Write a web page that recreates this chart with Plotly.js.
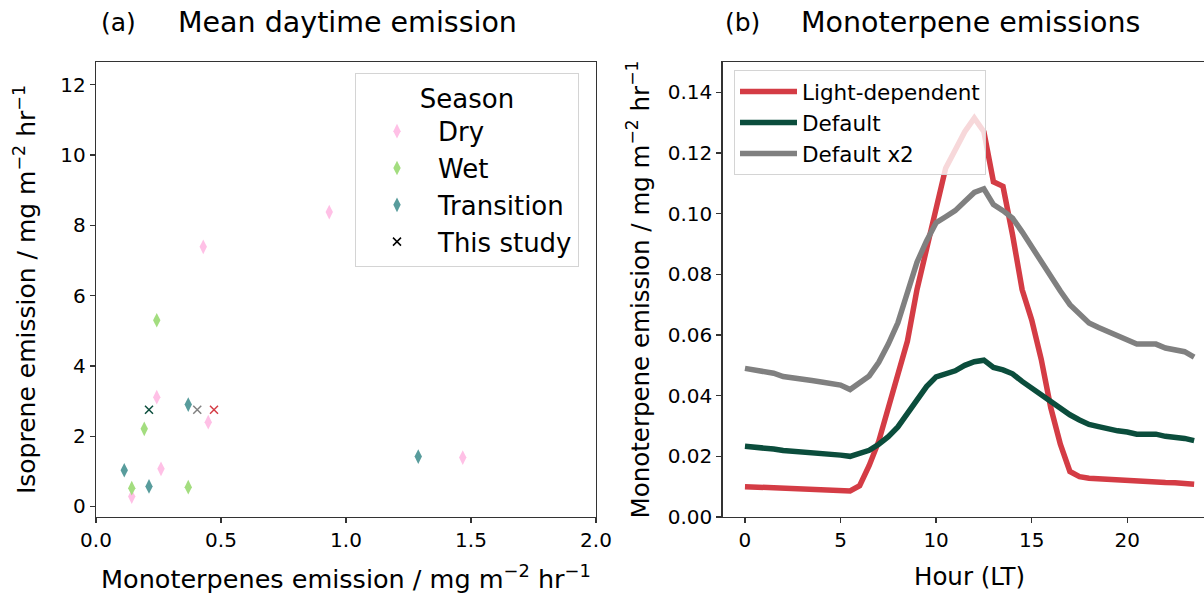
<!DOCTYPE html>
<html><head><meta charset="utf-8">
<script src="https://cdn.plot.ly/plotly-3.0.1.min.js"></script>
<style>html,body{margin:0;padding:0;overflow:hidden;width:1204px;height:594px;background:#fff}#chart{width:1230px;height:594px}</style>
</head><body><div id="chart"></div>
<script>
// ---- Panel (a): mean daytime emission ----
const dryX = [0.243, 0.449, 1.467, 0.260, 0.143, 0.933, 0.429];
const dryY = [3.11, 2.40, 1.39, 1.07, 0.28, 8.38, 7.39];
const wetX = [0.193, 0.143, 0.369, 0.243];
const wetY = [2.21, 0.52, 0.55, 5.30];
const transX = [0.369, 1.289, 0.113, 0.212];
const transY = [2.90, 1.42, 1.03, 0.57];
const studyX = [0.212, 0.405, 0.472];
const studyY = [2.75, 2.75, 2.75];
const studyColors = ['#0b4d3c', '#808080', '#d43c45'];

// ---- Panel (b): monoterpene diurnal emissions ----
const hours = [0,0.5,1,1.5,2,2.5,3,3.5,4,4.5,5,5.5,6,6.5,7,7.5,8,8.5,9,9.5,10,10.5,11,11.5,
               12,12.5,13,13.5,14,14.5,15,15.5,16,16.5,17,17.5,18,18.5,19,19.5,20,20.5,21,21.5,22,22.5,23,23.5];
const lightDependent = [0.0100,0.0099,0.0098,0.0097,0.0095,0.0094,0.0093,0.0092,0.0091,0.0090,0.0089,0.0086,
  0.0103,0.0170,0.0250,0.0360,0.0460,0.0580,0.0750,0.0880,0.1010,0.1150,0.1210,0.1270,
  0.1315,0.1270,0.1105,0.1090,0.0930,0.0750,0.0650,0.0520,0.0360,0.0240,0.0150,0.0133,
  0.0128,0.0126,0.0123,0.0120,0.0118,0.0116,0.0116,0.0116,0.0114,0.0113,0.0111,0.0108];
const defaultEm = [0.0233,0.0231,0.0228,0.0224,0.0219,0.0217,0.0214,0.0211,0.0209,0.0206,0.0204,0.0200,
  0.0208,0.0220,0.0240,0.0265,0.0297,0.0340,0.0390,0.0430,0.0462,0.0472,0.0482,0.0500,
  0.0512,0.0517,0.0493,0.0485,0.0472,0.0447,0.0425,0.0402,0.0378,0.0358,0.0337,0.0320,
  0.0305,0.0298,0.0290,0.0284,0.0280,0.0273,0.0273,0.0273,0.0266,0.0263,0.0259,0.0252];
const defaultX2 = [0.0490,0.0486,0.0482,0.0474,0.0463,0.0460,0.0455,0.0450,0.0445,0.0441,0.0435,0.0420,
  0.0440,0.0465,0.0510,0.0570,0.0640,0.0740,0.0840,0.0910,0.0970,0.0990,0.1010,0.1040,
  0.1070,0.1082,0.1030,0.1010,0.0985,0.0940,0.0890,0.0845,0.0795,0.0745,0.0700,0.0670,
  0.0640,0.0625,0.0610,0.0595,0.0583,0.0570,0.0570,0.0570,0.0557,0.0552,0.0545,0.0527];

const W = 1230, H = 594;
const FONT = 'DejaVu Sans';
const px = v => v / W;
const py = v => (H - v) / H;

const diamond = (c) => ({symbol: 'diamond-tall', size: 10.5, color: c, line: {width: 0}});
const traces = [
  {x: dryX, y: dryY, type: 'scatter', mode: 'markers', name: 'Dry', marker: diamond('#ffc0e6'), xaxis: 'x', yaxis: 'y', legend: 'legend'},
  {x: wetX, y: wetY, type: 'scatter', mode: 'markers', name: 'Wet', marker: diamond('#a3dd7f'), xaxis: 'x', yaxis: 'y', legend: 'legend'},
  {x: transX, y: transY, type: 'scatter', mode: 'markers', name: 'Transition', marker: diamond('#589c9c'), xaxis: 'x', yaxis: 'y', legend: 'legend'},
  {x: studyX, y: studyY, type: 'scatter', mode: 'markers', name: 'This study', showlegend: false,
   marker: {symbol: 'x-thin', size: 8, line: {width: 1.5, color: studyColors}}, xaxis: 'x', yaxis: 'y'},
  {x: [null], y: [null], type: 'scatter', mode: 'markers', name: 'This study',
   marker: {symbol: 'x-thin', size: 8, line: {width: 1.5, color: '#000'}}, xaxis: 'x', yaxis: 'y', legend: 'legend'},
  {x: hours, y: lightDependent, type: 'scatter', mode: 'lines', name: 'Light-dependent', line: {color: '#d43c45', width: 5.5}, xaxis: 'x2', yaxis: 'y2', legend: 'legend2'},
  {x: hours, y: defaultEm, type: 'scatter', mode: 'lines', name: 'Default', line: {color: '#0b4d3c', width: 5.5}, xaxis: 'x2', yaxis: 'y2', legend: 'legend2'},
  {x: hours, y: defaultX2, type: 'scatter', mode: 'lines', name: 'Default x2', line: {color: '#808080', width: 5.5}, xaxis: 'x2', yaxis: 'y2', legend: 'legend2'}
];

const axBase = {
  showline: true, mirror: true, linecolor: '#333', linewidth: 1.25,
  ticks: 'outside', ticklen: 5, tickwidth: 1.25, tickcolor: '#333',
  showgrid: false, zeroline: false,
  tickfont: {family: FONT, size: 20, color: '#000'}
};
const yDom = [py(517), py(62)];
const layout = {
  width: W, height: H,
  margin: {l: 0, r: 0, t: 0, b: 0},
  paper_bgcolor: '#fff', plot_bgcolor: '#fff',
  font: {family: FONT, color: '#000'},
  xaxis: Object.assign({}, axBase, {domain: [px(96), px(596)], range: [0, 2], dtick: 0.5, tickformat: '.1f', anchor: 'y',
    title: {text: 'Monoterpenes emission / mg m<sup>−2</sup> hr<sup>−1</sup>', font: {size: 25.5}, standoff: 31}}),
  yaxis: Object.assign({}, axBase, {domain: yDom, range: [-0.3, 12.65], dtick: 2, anchor: 'x',
    title: {text: 'Isoprene emission / mg m<sup>−2</sup> hr<sup>−1</sup>', font: {size: 25}, standoff: 17}}),
  xaxis2: Object.assign({}, axBase, {domain: [px(722.5), px(1216.6)], range: [-1.175, 24.675], dtick: 5, anchor: 'y2',
    title: {text: 'Hour (LT)', font: {size: 24.5}, standoff: 16}}),
  yaxis2: Object.assign({}, axBase, {domain: yDom, range: [0, 0.15], dtick: 0.02, tickformat: '.2f', anchor: 'x2',
    title: {text: 'Monoterpene emission / mg m<sup>−2</sup> hr<sup>−1</sup>', font: {size: 24.5}, standoff: 11}}),
  legend: {
    x: px(355), y: py(73), xanchor: 'left', yanchor: 'top',
    bgcolor: 'rgba(255,255,255,0.8)', bordercolor: '#d4d4d4', borderwidth: 1,
    font: {family: FONT, size: 26, color: '#000'},
    title: {text: 'Season', side: 'top center', font: {family: FONT, size: 26}},
    itemwidth: 72, tracegroupgap: 0
  },
  legend2: {
    x: px(734), y: py(70), xanchor: 'left', yanchor: 'top',
    bgcolor: 'rgba(255,255,255,0.8)', bordercolor: '#d4d4d4', borderwidth: 1,
    font: {family: FONT, size: 21.5, color: '#000'},
    itemwidth: 57, tracegroupgap: 0
  },
  annotations: [
    {text: '(a)', xref: 'paper', yref: 'paper', x: px(99), y: py(22), xanchor: 'left', yanchor: 'middle', showarrow: false, font: {size: 25}},
    {text: 'Mean daytime emission', xref: 'paper', yref: 'paper', x: px(347), y: py(22), xanchor: 'center', yanchor: 'middle', showarrow: false, font: {size: 28.5}},
    {text: '(b)', xref: 'paper', yref: 'paper', x: px(723), y: py(22), xanchor: 'left', yanchor: 'middle', showarrow: false, font: {size: 25}},
    {text: 'Monoterpene emissions', xref: 'paper', yref: 'paper', x: px(970), y: py(22), xanchor: 'center', yanchor: 'middle', showarrow: false, font: {size: 28.5}}
  ],
  showlegend: true
};

Plotly.newPlot('chart', traces, layout, {displayModeBar: false, staticPlot: true});
</script></body></html>
